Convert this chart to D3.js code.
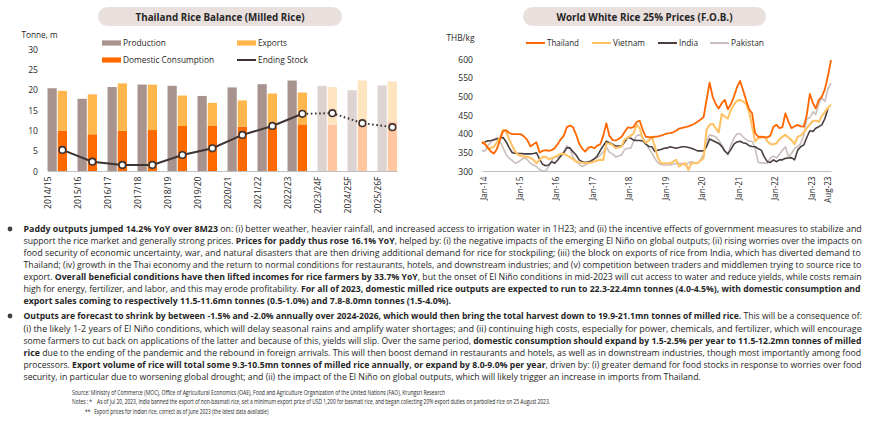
<!DOCTYPE html>
<html>
<head>
<meta charset="utf-8">
<script src="https://cdn.jsdelivr.net/npm/d3@7"></script>
<style>
body { margin: 0; background: #fff; }
svg text { font-family: "Open Sans", sans-serif; fill: #262626; white-space: pre; }
</style>
</head>
<body>
<svg id="chart" width="870" height="425"></svg>
<script>
// ---- left chart: Thailand rice balance (mn tonnes, milled rice)
const years = ['2014/15', '2015/16', '2016/17', '2017/18', '2018/19', '2019/20',
  '2020/21', '2021/22', '2022/23', '2023/24F', '2024/25F', '2025/26F'];
const production = [20.4, 17.8, 20.7, 21.3, 21.0, 18.5, 20.6, 21.4, 22.3, 21.0, 19.9, 21.1];
const domesticUse = [9.9, 9.05, 9.9, 10.1, 11.1, 11.1, 10.95, 10.95, 11.5, 11.4, 11.9, 12.2];
const exportsVol = [9.85, 9.85, 11.7, 11.2, 7.5, 5.7, 6.45, 8.15, 7.85, 9.3, 10.4, 9.9];
const endingStock = [5.2, 2.3, 1.5, 1.5, 3.95, 5.6, 8.9, 11.1, 14.1, 14.25, 11.8, 10.8];
const firstForecast = 9;
const stockTicks = [0, 5, 10, 15, 20, 25, 30];

// ---- right chart: world white rice 25% prices, THB/kg, monthly Jan-14 .. Aug-23
const thailand = [
  378, 372, 362, 352, 347, 360, 385, 408, 410, 402, 399, 399,
  399, 398, 392, 383, 366, 372, 377, 350, 354, 356, 354, 356,
  362, 373, 385, 395, 418, 422, 418, 398, 374, 360, 352, 362,
  365, 361, 368, 372, 395, 428, 395, 383, 382, 386, 392, 405,
  417, 416, 418, 432, 435, 410, 392, 391, 390, 392, 393, 395,
  398, 401, 402, 404, 408, 414, 416, 418, 420, 423, 427, 432,
  438, 445, 490, 537, 500, 480, 468, 482, 491, 466, 480, 500,
  525, 542, 518, 491, 466, 455, 402, 392, 392, 391, 390, 395,
  419, 424, 415, 418, 455, 432, 415, 420, 424, 420, 419, 450,
  507, 482, 468, 491, 500, 520, 555, 598];
const vietnam = [
  378, 374, 361, 362, 365, 378, 390, 410, 405, 385, 367, 352,
  343, 340, 338, 338, 335, 330, 321, 330, 338, 338, 332, 334,
  338, 342, 346, 346, 342, 338, 332, 326, 323, 322, 321, 322,
  323, 326, 328, 330, 330, 374, 374, 370, 362, 363, 366, 385,
  390, 395, 401, 424, 415, 385, 376, 382, 392, 365, 335, 321,
  321, 321, 321, 325, 330, 312, 318, 321, 303, 321, 321, 321,
  328, 335, 410, 424, 427, 415, 404, 453, 446, 441, 464, 478,
  489, 491, 487, 481, 460, 420, 380, 388, 390, 392, 380, 372,
  372, 374, 385, 392, 397, 390, 383, 372, 392, 395, 404, 415,
  425, 435, 435, 432, 448, 458, 470, 478];
const india = [
  374, 378, 381, 382, 384, 386, 388, 390, 378, 362, 349, 348,
  347, 347, 346, 346, 346, 347, 349, 332, 318, 314, 316, 325,
  321, 330, 340, 350, 362, 362, 352, 343, 330, 325, 323, 325,
  327, 333, 340, 355, 368, 380, 376, 372, 367, 367, 367, 378,
  390, 388, 383, 382, 382, 381, 372, 366, 365, 352, 356, 358,
  361, 362, 365, 363, 361, 363, 365, 365, 363, 361, 358, 354,
  354, 354, 365, 386, 382, 378, 374, 366, 353, 346, 358, 372,
  378, 380, 376, 374, 368, 366, 365, 360, 356, 338, 325, 323,
  330, 325, 330, 330, 334, 335, 336, 330, 356, 365, 370, 390,
  408, 406, 415, 419, 424, 441, 467, null];
const pakistan = [
  354, 354, 368, 378, 385, 390, 378, 362, 343, 334, 328, 321,
  325, 330, 336, 330, 321, 316, 312, 304, 300, 300, 312, 328,
  338, 338, 340, 352, 368, 360, 338, 326, 318, 312, 316, 321,
  328, 332, 336, 342, 352, 365, 350, 346, 338, 340, 343, 358,
  361, 361, 380, 395, 397, 390, 375, 360, 348, 333, 322, 317,
  316, 316, 316, 318, 320, 321, 320, 316, 322, 325, 322, 321,
  330, 345, 380, 397, 395, 392, 383, 370, 355, 343, 370, 388,
  400, 400, 392, 385, 380, 380, 361, 323, 322, 321, 321, 335,
  340, 335, 345, 356, 365, 338, 347, 361, 365, 374, 395, 440,
  443, 459, 452, 480, 496, 487, 520, 536];
const priceTicks = [300, 350, 400, 450, 500, 550, 600];
const seriesNames = ['Thailand', 'Vietnam', 'India', 'Pakistan'];
const seriesColors = ['#ff6600', '#ffc265', '#4a3e3e', '#c9bebd'];

const svg = d3.select('#chart');

// squeeze text a bit so Open Sans runs about as narrow as Calibri
function squeeze(sel, k) {
  sel.each(function() {
    const w = this.getComputedTextLength();
    this.setAttribute('textLength', w * k);
    this.setAttribute('lengthAdjust', 'spacingAndGlyphs');
  });
}

function pill(x, y, w, label, textW) {
  svg.append('rect').attr('x', x).attr('y', y).attr('width', w).attr('height', 19)
    .attr('rx', 9.5).attr('fill', '#e9dfdd');
  svg.append('text').attr('x', x + w / 2).attr('y', y + 13.5).attr('text-anchor', 'middle')
    .attr('font-size', 11).attr('font-weight', 700)
    .attr('textLength', textW).attr('lengthAdjust', 'spacingAndGlyphs')
    .text(label);
}

// ================= left chart =================
pill(98, 7, 244, 'Thailand Rice Balance (Milled Rice)', 169);

svg.append('text').attr('x', 21.5).attr('y', 37.5).attr('font-size', 9.5)
  .attr('textLength', 36).attr('lengthAdjust', 'spacingAndGlyphs').text('Tonne, m');

const yL = d3.scaleLinear().domain([0, 30]).range([171, 49.3]);
const xL = d3.scaleBand().domain(years).range([47.5, 397]).paddingInner(0.35).paddingOuter(0);
const half = xL.bandwidth() / 2;

const rows = years.map((y, i) => ({
  year: y, prod: production[i], dom: domesticUse[i], exp: exportsVol[i],
  stock: endingStock[i], fc: i >= firstForecast
}));

const bars = svg.append('g');
bars.selectAll('.prod').data(rows).join('rect').attr('class', 'prod')
  .attr('x', d => xL(d.year))
  .attr('width', half - 0.5)
  .attr('y', d => yL(d.prod))
  .attr('height', d => yL(0) - yL(d.prod))
  .attr('fill', d => d.fc ? '#ddd3d1' : '#a8938f');
bars.selectAll('.dom').data(rows).join('rect').attr('class', 'dom')
  .attr('x', d => xL(d.year) + half + 0.5)
  .attr('width', half - 0.5)
  .attr('y', d => yL(d.dom))
  .attr('height', d => yL(0) - yL(d.dom))
  .attr('fill', d => d.fc ? '#ffc6a0' : '#ff6a00');
bars.selectAll('.exp').data(rows).join('rect').attr('class', 'exp')
  .attr('x', d => xL(d.year) + half + 0.5)
  .attr('width', half - 0.5)
  .attr('y', d => yL(d.dom + d.exp))
  .attr('height', d => yL(d.dom) - yL(d.dom + d.exp))
  .attr('fill', d => d.fc ? '#ffe4c0' : '#ffb74d');

const axL = svg.append('g').attr('transform', 'translate(0,' + yL(0) + ')')
  .call(d3.axisBottom(xL).tickSize(0).tickSizeOuter(0));
axL.select('.domain').attr('stroke', '#bfbfbf').attr('stroke-width', 1);
axL.selectAll('text')
  .attr('font-size', 9).attr('font-family', '"Open Sans", sans-serif').attr('fill', '#262626')
  .attr('transform', 'rotate(-90)').attr('text-anchor', 'end')
  .attr('x', -5.5).attr('y', -half / 2 - 5).attr('dy', '0.35em');
squeeze(axL.selectAll('text'), 0.95);

const ayL = svg.append('g').attr('transform', 'translate(41,0)')
  .call(d3.axisLeft(yL).tickValues(stockTicks).tickSize(0).tickPadding(3));
ayL.select('.domain').remove();
ayL.selectAll('text').attr('font-size', 9.5).attr('font-family', '"Open Sans", sans-serif').attr('fill', '#262626');
squeeze(ayL.selectAll('text'), 0.9);

const stockX = d => xL(d.year) + half * 1.5 + 0.25;
const stockLine = d3.line().x(stockX).y(d => yL(d.stock));
svg.append('path').datum(rows.slice(0, firstForecast))
  .attr('d', stockLine).attr('fill', 'none').attr('stroke', '#3d3332').attr('stroke-width', 2);
svg.append('path').datum(rows.slice(firstForecast - 1))
  .attr('d', stockLine).attr('fill', 'none').attr('stroke', '#3d3332').attr('stroke-width', 2)
  .attr('stroke-dasharray', '1.6,2.6');
svg.selectAll('.stockDot').data(rows).join('circle').attr('class', 'stockDot')
  .attr('cx', stockX).attr('cy', d => yL(d.stock)).attr('r', 3.3)
  .attr('fill', '#fff').attr('stroke', '#3d3332').attr('stroke-width', 1.6);

// legend
const legL = [
  { name: 'Production', x: 102, y: 43, kind: 'box', color: '#a8938f', w: 43 },
  { name: 'Exports', x: 237, y: 43, kind: 'box', color: '#ffb74d', w: 29 },
  { name: 'Domestic Consumption', x: 102, y: 60, kind: 'box', color: '#ff6a00', w: 91 },
  { name: 'Ending Stock', x: 237, y: 60, kind: 'line', color: '#3d3332', w: 50 }
];
legL.forEach(l => {
  if (l.kind === 'box') {
    svg.append('rect').attr('x', l.x).attr('y', l.y - 2.6).attr('width', 19).attr('height', 5.2).attr('fill', l.color);
  } else {
    svg.append('line').attr('x1', l.x).attr('x2', l.x + 19).attr('y1', l.y).attr('y2', l.y)
      .attr('stroke', l.color).attr('stroke-width', 2);
  }
  svg.append('text').attr('x', l.x + 21).attr('y', l.y + 3.3).attr('font-size', 9.5)
    .attr('textLength', l.w).attr('lengthAdjust', 'spacingAndGlyphs').text(l.name);
});

// ================= right chart =================
pill(523, 7, 243, 'World White Rice 25% Prices (F.O.B.)', 176);

svg.append('text').attr('x', 446.5).attr('y', 40.5).attr('font-size', 9.5)
  .attr('textLength', 28).attr('lengthAdjust', 'spacingAndGlyphs').text('THB/kg');

const months = d3.timeMonth.range(new Date(2014, 0, 1), new Date(2023, 8, 1));
const xR = d3.scaleTime().domain([months[0], months[months.length - 1]]).range([482, 831]);
const yR = d3.scaleLinear().domain([300, 600]).range([171, 59.3]);

svg.append('clipPath').attr('id', 'plotR').append('rect')
  .attr('x', 478).attr('y', 50).attr('width', 360).attr('height', 121);

const priceSeries = [thailand, vietnam, india, pakistan];
const widths = [1.8, 2.1, 1.6, 1.6];
const priceLine = d3.line()
  .defined(d => d.v != null)
  .x(d => xR(d.date)).y(d => yR(d.v));
const gLines = svg.append('g').attr('clip-path', 'url(#plotR)');
[3, 2, 1, 0].forEach(s => {
  const pts = months.map((m, i) => ({ date: m, v: priceSeries[s][i] }));
  gLines.append('path').datum(pts).attr('d', priceLine)
    .attr('fill', 'none').attr('stroke', seriesColors[s]).attr('stroke-width', widths[s])
    .attr('stroke-linejoin', 'round');
});

const tickDates = d3.range(2014, 2024).map(y => new Date(y, 0, 1)).concat([new Date(2023, 7, 1)]);
const axR = svg.append('g').attr('transform', 'translate(0,' + yR(300) + ')')
  .call(d3.axisBottom(xR).tickValues(tickDates).tickFormat(d3.timeFormat('%b-%y')).tickSize(0).tickSizeOuter(0));
axR.select('.domain').attr('stroke', '#bfbfbf').attr('stroke-width', 1);
axR.selectAll('text')
  .attr('font-size', 9).attr('font-family', '"Open Sans", sans-serif').attr('fill', '#262626')
  .attr('transform', 'rotate(-90)').attr('text-anchor', 'end')
  .attr('x', -5.5).attr('y', (d, i) => i === tickDates.length - 1 ? -4 : 1).attr('dy', '0.35em');
squeeze(axR.selectAll('text'), 0.9);

const ayR = svg.append('g').attr('transform', 'translate(476,0)')
  .call(d3.axisLeft(yR).tickValues(priceTicks).tickSize(0).tickPadding(3));
ayR.select('.domain').remove();
ayR.selectAll('text').attr('font-size', 9.5).attr('font-family', '"Open Sans", sans-serif').attr('fill', '#262626');
squeeze(ayR.selectAll('text'), 0.9);

const legR = [
  { x: 526, w: 32 }, { x: 592, w: 32 }, { x: 658, w: 19 }, { x: 710, w: 33 }
];
seriesNames.forEach((n, i) => {
  svg.append('line').attr('x1', legR[i].x).attr('x2', legR[i].x + 19).attr('y1', 43).attr('y2', 43)
    .attr('stroke', seriesColors[i]).attr('stroke-width', 2);
  svg.append('text').attr('x', legR[i].x + 21).attr('y', 46.3).attr('font-size', 9.5)
    .attr('textLength', legR[i].w).attr('lengthAdjust', 'spacingAndGlyphs').text(n);
});

// ================= commentary =================
const B = true, N = false;
const para1 = [
  [[B, 'Paddy outputs jumped 14.2% YoY over 8M23'], [N, ' on: (i) better weather, heavier rainfall, and increased access to irrigation water in 1H23; and (ii) the incentive effects of government measures to stabilize and']],
  [[N, 'support the rice market and generally strong prices. '], [B, 'Prices for paddy thus rose 16.1% YoY'], [N, ', helped by: (i) the negative impacts of the emerging El Niño on global outputs; (ii) rising worries over the impacts on']],
  [[N, 'food security of economic uncertainty, war, and natural disasters that are then driving additional demand for rice for stockpiling; (iii) the block on exports of rice from India, which has diverted demand to']],
  [[N, 'Thailand; (iv) growth in the Thai economy and the return to normal conditions for restaurants, hotels, and downstream industries; and (v) competition between traders and middlemen trying to source rice to']],
  [[N, 'export. '], [B, 'Overall beneficial conditions have then lifted incomes for rice farmers by 33.7% YoY'], [N, ', but the onset of El Niño conditions in mid-2023 will cut access to water and reduce yields, while costs remain']],
  [[N, 'high for energy, fertilizer, and labor, and this may erode profitability. '], [B, 'For all of 2023, domestic milled rice outputs are expected to run to 22.3-22.4mn tonnes (4.0-4.5%), with domestic consumption and']],
  [[B, 'export sales coming to respectively 11.5-11.6mn tonnes (0.5-1.0%) and 7.8-8.0mn tonnes (1.5-4.0%).']]
];
const para2 = [
  [[B, 'Outputs are forecast to shrink by between -1.5% and -2.0% annually over 2024-2026, which would then bring the total harvest down to 19.9-21.1mn tonnes of milled rice.'], [N, ' This will be a consequence of:']],
  [[N, '(i) the likely 1-2 years of El Niño conditions, which will delay seasonal rains and amplify water shortages; and (ii) continuing high costs, especially for power, chemicals, and fertilizer, which will encourage']],
  [[N, 'some farmers to cut back on applications of the latter and because of this, yields will slip. Over the same period, '], [B, 'domestic consumption should expand by 1.5-2.5% per year to 11.5-12.2mn tonnes of milled']],
  [[B, 'rice'], [N, ' due to the ending of the pandemic and the rebound in foreign arrivals. This will then boost demand in restaurants and hotels, as well as in downstream industries, though most importantly among food']],
  [[N, 'processors. '], [B, 'Export volume of rice will total some 9.3-10.5mn tonnes of milled rice annually, or expand by 8.0-9.0% per year'], [N, ', driven by: (i) greater demand for food stocks in response to worries over food']],
  [[N, 'security, in particular due to worsening global drought; and (ii) the impact of the El Niño on global outputs, which will likely trigger an increase in imports from Thailand.']]
];

function writeParagraph(lines, x, y0, step, width) {
  const nodes = lines.map((segs, i) => {
    const t = svg.append('text').attr('font-size', 9.6).attr('fill', '#1a1a1a')
      .attr('transform', 'translate(' + x + ',' + (y0 + i * step) + ')');
    segs.forEach(s => t.append('tspan').attr('font-weight', s[0] ? 700 : 400).text(s[1]));
    return t;
  });
  const ks = nodes.map(t => width / t.node().getComputedTextLength());
  const kLast = d3.mean(ks.slice(0, -1));
  nodes.forEach((t, i) => {
    const k = i === nodes.length - 1 ? kLast : ks[i];
    t.attr('transform', 'translate(' + x + ',' + (y0 + i * step) + ') scale(' + k + ',1)');
  });
}

svg.append('circle').attr('cx', 10).attr('cy', 229).attr('r', 2.4).attr('fill', '#404040');
writeParagraph(para1, 23.5, 232.3, 11.95, 838.5);
svg.append('circle').attr('cx', 10).attr('cy', 316).attr('r', 2.4).attr('fill', '#404040');
writeParagraph(para2, 23.5, 319.3, 12.2, 838.5);

const notes = [
  { x: 72, y: 394.6, w: 373, t: 'Source: Ministry of Commerce (MOC), Office of Agricultural Economics (OAE), Food and Agriculture Organization of the United Nations (FAO), Krungsri Research' },
  { x: 72, y: 404.3, w: 478, t: 'Notes : *    As of Jul 20, 2023, India banned the export of non-basmati rice, set a minimum export price of USD 1,200 for basmati rice, and began collecting 20% export duties on parboiled rice on 25 August 2023.' },
  { x: 85, y: 414.2, w: 183.5, t: '**   Export prices for Indian rice, correct as of June 2023 (the latest data available)' }
];
notes.forEach(n => {
  svg.append('text').attr('x', n.x).attr('y', n.y).attr('font-size', 7).attr('fill', '#1a1a1a')
    .attr('textLength', n.w).attr('lengthAdjust', 'spacingAndGlyphs').text(n.t);
});
</script>
</body>
</html>
